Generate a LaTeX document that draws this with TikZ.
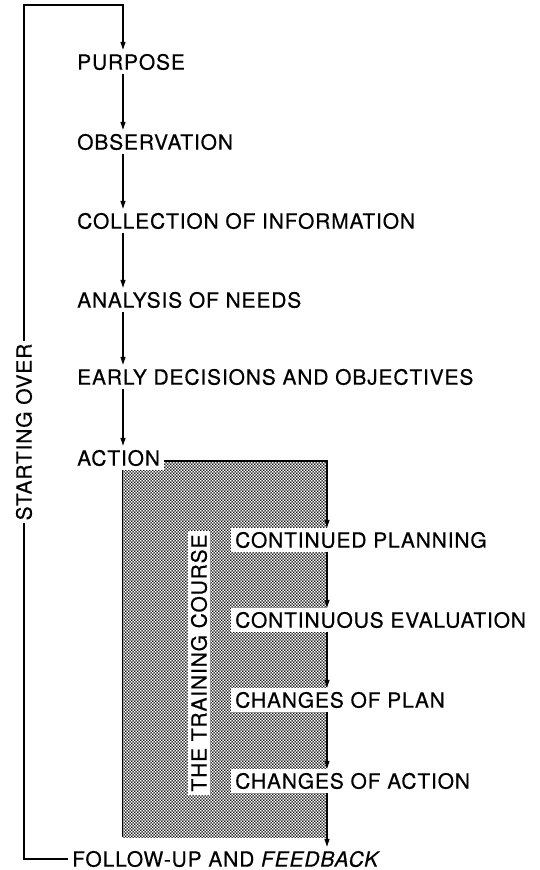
\documentclass[tikz,border=0pt]{standalone}
\usepackage{fontspec}
\setmainfont{TeX Gyre Heros}[LetterSpace=4, FakeBold=0.4]
\usetikzlibrary{positioning}
\usetikzlibrary{calc,patterns,arrows.meta}

% halftone screen of the training course block
\pgfdeclarepatternformonly{halftone}{\pgfpointorigin}{\pgfpoint{3.4pt}{3.4pt}}{\pgfpoint{3.4pt}{3.4pt}}{%
	\pgfpathcircle{\pgfpoint{0.85pt}{0.85pt}}{1.0pt}%
	\pgfpathcircle{\pgfpoint{2.55pt}{2.55pt}}{1.0pt}%
	\pgfusepath{fill}%
}

\begin{document}
\begin{tikzpicture}[x=1pt, y=-1pt,
	stage/.style={anchor=west, inner xsep=4pt, inner ysep=4pt, fill=white,
		font=\fontsize{21}{24}\selectfont},
	flow/.style={line width=1.2pt, -{Triangle[length=8pt,width=5pt]}}]
	
	\useasboundingbox (0,0) rectangle (540,870);
	
	% ---------------------
	% Columns & loop corners
	\coordinate (LeftCol) at (123,0);
	\coordinate (RightCol) at (327,0);
	\coordinate (LoopTop) at (24,5);
	\path (LoopTop) +(0,854) coordinate (LoopBottom);
	
	% ---------------------
	% Training course block
	\coordinate (BlockTop) at (122,461);
	\path (BlockTop) +(205,376) coordinate (BlockBottom);
	\fill[pattern=halftone] (BlockTop) rectangle (BlockBottom);
	\draw[line width=0.7pt] (BlockTop) -- (BlockTop |- BlockBottom);
	
	% ---------------------
	% Stages
	\node[stage] (Purpose)       at (73,62)  {PURPOSE};
	\node[stage] (Observation)   at (73,142) {OBSERVATION};
	\node[stage] (Collection)    at (73,221) {COLLECTION OF INFORMATION};
	\node[stage] (Analysis)      at (73,300) {ANALYSIS OF NEEDS};
	\node[stage] (Early)         at (73,377) {EARLY DECISIONS AND OBJECTIVES};
	\node[stage] (Action)        at (73,458) {ACTION};
	
	\node[stage] (Continued)     at (231,540) {CONTINUED PLANNING};
	\node[stage] (Continuous)    at (231,620) {CONTINUOUS EVALUATION};
	\node[stage] (ChangesPlan)   at (231,700) {CHANGES OF PLAN};
	\node[stage] (ChangesAction) at (231,781) {CHANGES OF ACTION};
	
	\node[stage] (FollowUp)      at (68,859) {FOLLOW-UP AND \textit{FEEDBACK}};
	
	\node[stage, anchor=center, rotate=90, inner sep=3pt] (Course) at (199,663) {THE TRAINING COURSE};
	
	% ---------------------
	% Connectors
	\foreach \a/\b in {Purpose/Observation, Observation/Collection, Collection/Analysis,
		Analysis/Early, Early/Action}
		\draw[flow] (\a.south -| LeftCol) -- (\b.north -| LeftCol);
	
	\draw[flow] ([yshift=-3pt]Action.east) -| (Continued.north -| RightCol);
	
	\foreach \a/\b in {Continued/Continuous, Continuous/ChangesPlan,
		ChangesPlan/ChangesAction, ChangesAction/FollowUp}
		\draw[flow] (\a.south -| RightCol) -- (\b.north -| RightCol);
	
	% starting over
	\draw[flow] (FollowUp.west) -- (LoopBottom)
		-- node[stage, anchor=center, rotate=90, inner sep=3pt] (StartOver) {STARTING OVER} (LoopTop)
		-| (Purpose.north -| LeftCol);
	
\end{tikzpicture}
\end{document}
